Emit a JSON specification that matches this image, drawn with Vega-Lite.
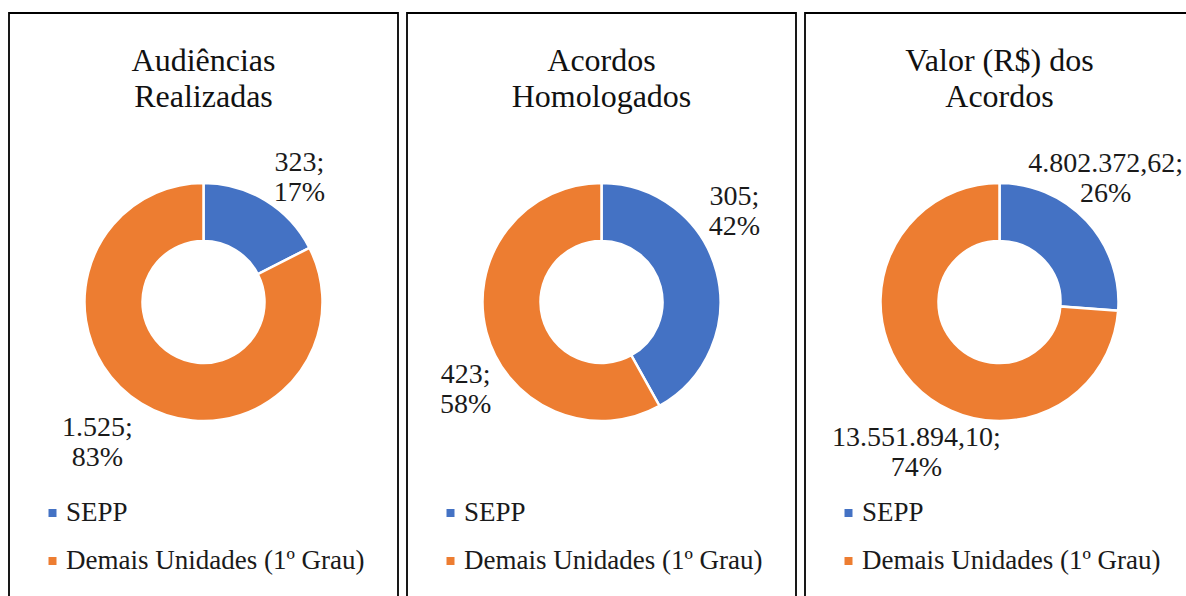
{
  "$schema": "https://vega.github.io/schema/vega-lite/v6.json",
  "padding": {"left": 8, "top": 12, "right": 0, "bottom": 0},
  "background": "white",
  "spacing": 7,
  "datasets": {
    "audiencias": [
      {"categoria": "SEPP", "valor": 323, "ordem": 1},
      {"categoria": "Demais Unidades (1º Grau)", "valor": 1525, "ordem": 2}
    ],
    "acordos": [
      {"categoria": "SEPP", "valor": 305, "ordem": 1},
      {"categoria": "Demais Unidades (1º Grau)", "valor": 423, "ordem": 2}
    ],
    "valores": [
      {"categoria": "SEPP", "valor": 4802372.62, "ordem": 1},
      {"categoria": "Demais Unidades (1º Grau)", "valor": 13551894.10, "ordem": 2}
    ]
  },
  "config": {
    "locale": {"number": {"decimal": ",", "thousands": ".", "grouping": [3], "currency": ["R$ ", ""]}},
    "font": "'Liberation Serif', 'Times New Roman', serif",
    "view": {"stroke": null},
    "title": {"font": "'Liberation Serif', 'Times New Roman', serif", "fontSize": 32, "fontWeight": "normal", "color": "#111111", "lineHeight": 36, "offset": -101.5, "baseline": "alphabetic", "anchor": "middle"},
    "legend": {"symbolType": "square", "symbolSize": 64, "symbolStrokeWidth": 0, "labelFont": "'Liberation Serif', 'Times New Roman', serif", "labelFontSize": 27, "labelColor": "#1a1a1a", "rowPadding": 20, "labelOffset": 0, "labelLimit": 400, "padding": 0},
    "text": {"font": "'Liberation Serif', 'Times New Roman', serif", "fontSize": 28, "color": "#1a1a1a", "lineBreak": "\n", "lineHeight": 30, "align": "center", "baseline": "middle"}
  },
  "resolve": {"legend": {"color": "independent"}},
  "hconcat": [
    {
      "width": 389, "height": 578,
      "title": {"text": ["Audiências", "Realizadas"]},
      "data": {"name": "audiencias"},
      "transform": [
        {"joinaggregate": [{"op": "sum", "field": "valor", "as": "total"}]},
        {"calculate": "format(datum.valor, ',') + ';\\n' + format(datum.valor / datum.total, '.0%')", "as": "rotulo"}
      ],
      "layer": [
        {
          "transform": [{"filter": "datum.ordem === 1"}],
          "mark": {"type": "rect", "fill": null, "stroke": "#000000", "strokeWidth": 1.8, "y2Offset": 40},
          "encoding": {"x": {"value": 0}, "x2": {"value": "width"}, "y": {"value": 0}, "y2": {"value": "height"}}
        },
        {
          "mark": {"type": "arc", "outerRadius": 119, "innerRadius": 61, "stroke": "white", "strokeWidth": 2.5},
          "encoding": {
            "theta": {"field": "valor", "type": "quantitative", "stack": true},
            "order": {"field": "ordem", "type": "quantitative"},
            "color": {"field": "categoria", "type": "nominal",
              "scale": {"domain": ["SEPP", "Demais Unidades (1º Grau)"], "range": ["#4472C4", "#ED7D31"]},
              "legend": {"title": null, "orient": "none", "legendX": 30, "legendY": 486.5, "labelFont": "'Liberation Serif', 'Times New Roman', serif"}}
          }
        },
        {
          "mark": {"type": "text", "radius": 160, "dx": 12.5, "dy": -2.5},
          "encoding": {
            "theta": {"field": "valor", "type": "quantitative", "stack": true},
            "order": {"field": "ordem", "type": "quantitative"},
            "text": {"condition": {"test": "datum.ordem === 1", "field": "rotulo"}, "value": ""}}
        },
        {
          "mark": {"type": "text", "radius": 160, "dx": -22.5, "dy": -10},
          "encoding": {
            "theta": {"field": "valor", "type": "quantitative", "stack": true},
            "order": {"field": "ordem", "type": "quantitative"},
            "text": {"condition": {"test": "datum.ordem === 2", "field": "rotulo"}, "value": ""}}
        }
      ]
    },
    {
      "width": 389, "height": 578,
      "title": {"text": ["Acordos", "Homologados"]},
      "data": {"name": "acordos"},
      "transform": [
        {"joinaggregate": [{"op": "sum", "field": "valor", "as": "total"}]},
        {"calculate": "format(datum.valor, ',') + ';\\n' + format(datum.valor / datum.total, '.0%')", "as": "rotulo"}
      ],
      "layer": [
        {
          "transform": [{"filter": "datum.ordem === 1"}],
          "mark": {"type": "rect", "fill": null, "stroke": "#000000", "strokeWidth": 1.8, "y2Offset": 40},
          "encoding": {"x": {"value": 0}, "x2": {"value": "width"}, "y": {"value": 0}, "y2": {"value": "height"}}
        },
        {
          "mark": {"type": "arc", "outerRadius": 119, "innerRadius": 61, "stroke": "white", "strokeWidth": 2.5},
          "encoding": {
            "theta": {"field": "valor", "type": "quantitative", "stack": true},
            "order": {"field": "ordem", "type": "quantitative"},
            "color": {"field": "categoria", "type": "nominal",
              "scale": {"domain": ["SEPP", "Demais Unidades (1º Grau)"], "range": ["#4472C4", "#ED7D31"]},
              "legend": {"title": null, "orient": "none", "legendX": 30, "legendY": 486.5, "labelFont": "'Liberation Serif', 'Times New Roman', serif"}}
          }
        },
        {
          "mark": {"type": "text", "radius": 160, "dx": -22, "dy": -65},
          "encoding": {
            "theta": {"field": "valor", "type": "quantitative", "stack": true},
            "order": {"field": "ordem", "type": "quantitative"},
            "text": {"condition": {"test": "datum.ordem === 1", "field": "rotulo"}, "value": ""}}
        },
        {
          "mark": {"type": "text", "radius": 160, "dx": 19, "dy": 33},
          "encoding": {
            "theta": {"field": "valor", "type": "quantitative", "stack": true},
            "order": {"field": "ordem", "type": "quantitative"},
            "text": {"condition": {"test": "datum.ordem === 2", "field": "rotulo"}, "value": ""}}
        }
      ]
    },
    {
      "width": 389, "height": 578,
      "title": {"text": ["Valor (R$) dos", "Acordos"]},
      "data": {"name": "valores"},
      "transform": [
        {"joinaggregate": [{"op": "sum", "field": "valor", "as": "total"}]},
        {"calculate": "format(datum.valor, ',.2f') + ';\\n' + format(datum.valor / datum.total, '.0%')", "as": "rotulo"}
      ],
      "layer": [
        {
          "transform": [{"filter": "datum.ordem === 1"}],
          "mark": {"type": "rect", "fill": null, "stroke": "#000000", "strokeWidth": 1.8, "y2Offset": 40},
          "encoding": {"x": {"value": 0}, "x2": {"value": "width"}, "y": {"value": 0}, "y2": {"value": "height"}}
        },
        {
          "mark": {"type": "arc", "outerRadius": 119, "innerRadius": 61, "stroke": "white", "strokeWidth": 2.5},
          "encoding": {
            "theta": {"field": "valor", "type": "quantitative", "stack": true},
            "order": {"field": "ordem", "type": "quantitative"},
            "color": {"field": "categoria", "type": "nominal",
              "scale": {"domain": ["SEPP", "Demais Unidades (1º Grau)"], "range": ["#4472C4", "#ED7D31"]},
              "legend": {"title": null, "orient": "none", "legendX": 30, "legendY": 486.5, "labelFont": "'Liberation Serif', 'Times New Roman', serif"}}
          }
        },
        {
          "mark": {"type": "text", "radius": 160, "dx": -11, "dy": -29},
          "encoding": {
            "theta": {"field": "valor", "type": "quantitative", "stack": true},
            "order": {"field": "ordem", "type": "quantitative"},
            "text": {"condition": {"test": "datum.ordem === 1", "field": "rotulo"}, "value": ""}}
        },
        {
          "mark": {"type": "text", "radius": 160, "dx": 34, "dy": 27},
          "encoding": {
            "theta": {"field": "valor", "type": "quantitative", "stack": true},
            "order": {"field": "ordem", "type": "quantitative"},
            "text": {"condition": {"test": "datum.ordem === 2", "field": "rotulo"}, "value": ""}}
        }
      ]
    }
  ]
}
